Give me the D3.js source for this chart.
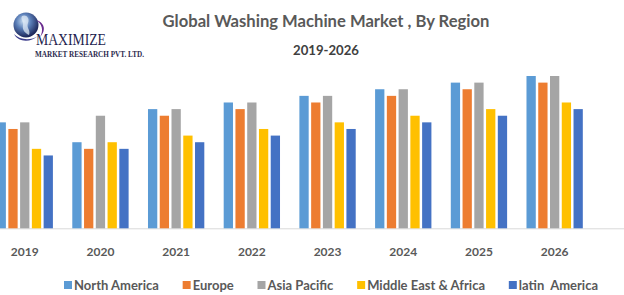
<!DOCTYPE html>
<html>
<head>
<meta charset="utf-8">
<script src="https://cdn.jsdelivr.net/npm/d3@7"></script>
<style>
  html, body { margin: 0; padding: 0; background: #ffffff; }
  svg { display: block; }
</style>
</head>
<body>
<svg id="chart" width="624" height="295"></svg>
<script>
// ---- data ----
const years = ["2019", "2020", "2021", "2022", "2023", "2024", "2025", "2026"];
const seriesNames = ["North America", "Europe", "Asia Pacific", "Middle East & Africa", "latin  America"];
const northAmerica = [16, 13, 18, 19, 20, 21, 22, 23];
const europe       = [15, 12, 17, 18, 19, 20, 21, 22];
const asiaPacific  = [16, 17, 18, 19, 20, 21, 22, 23];
const middleEast   = [12, 13, 14, 15, 16, 17, 18, 19];
const latinAmerica = [11, 12, 13, 14, 15, 16, 17, 18];
const colors = ["#5b9bd5", "#ed7d31", "#a5a5a5", "#ffc000", "#4472c4"];
const titleText = "Global Washing Machine Market , By Region";
const subtitleText = "2019-2026";

const seriesValues = [northAmerica, europe, asiaPacific, middleEast, latinAmerica];
const table = years.map((yr, i) => ({
  year: yr,
  values: seriesNames.map((s, j) => ({ key: s, value: seriesValues[j][i], color: colors[j] }))
}));

const svg = d3.select("#chart");
const baseline = 228.3;
const textColor = "#595959";

const x0 = d3.scaleBand().domain(years).range([-13.1, 592.5]).paddingInner(0.256).paddingOuter(0.128);
const x1 = d3.scaleBand().domain(seriesNames).range([0, x0.bandwidth()]).paddingInner(0.21).paddingOuter(0);
const y = d3.scaleLinear().domain([0, 23]).range([baseline, 76]);

// axis baseline
svg.append("line")
  .attr("x1", 0).attr("x2", 624)
  .attr("y1", baseline + 0.5).attr("y2", baseline + 0.5)
  .attr("stroke", "#d9d9d9").attr("stroke-width", 1);

// bars
const groups = svg.append("g").selectAll("g").data(table).join("g")
  .attr("transform", d => `translate(${x0(d.year)},0)`);
groups.selectAll("rect").data(d => d.values).join("rect")
  .attr("x", d => x1(d.key))
  .attr("width", x1.bandwidth())
  .attr("y", d => y(d.value))
  .attr("height", d => baseline - y(d.value))
  .attr("fill", d => d.color);

// x axis labels
const xAxis = d3.axisBottom(x0).tickSize(0).tickPadding(0);
const ax = svg.append("g").attr("transform", `translate(0,${baseline})`).call(xAxis);
ax.select(".domain").remove();
ax.selectAll("text")
  .attr("dy", 0).attr("y", 27.5)
  .attr("fill", textColor)
  .style("font-family", "Lato, 'Open Sans', sans-serif")
  .style("font-size", "12px")
  .style("font-weight", "700");

// title
svg.append("text")
  .attr("x", 326).attr("y", 27)
  .attr("text-anchor", "middle")
  .attr("textLength", 327).attr("lengthAdjust", "spacingAndGlyphs")
  .attr("fill", textColor)
  .style("font-family", "Lato, 'Open Sans', sans-serif")
  .style("font-size", "17.5px").style("font-weight", "700")
  .text(titleText);
svg.append("text")
  .attr("x", 326).attr("y", 55)
  .attr("text-anchor", "middle")
  .attr("textLength", 66).attr("lengthAdjust", "spacingAndGlyphs")
  .attr("fill", "#404040")
  .style("font-family", "Lato, 'Open Sans', sans-serif")
  .style("font-size", "14px").style("font-weight", "700")
  .text(subtitleText);

// legend: spread items between the measured left and right edges
const legend = svg.append("g");
const legendLeft = 64, legendRight = 598;
const items = seriesNames.map((name, i) => {
  const t = legend.append("text")
    .attr("y", 289.5)
    .attr("fill", textColor)
    .attr("xml:space", "preserve")
    .style("white-space", "pre")
    .style("font-family", "Lato, 'Open Sans', sans-serif")
    .style("font-size", "13px").style("font-weight", "700")
    .text(name);
  return { name, color: colors[i], t, w: t.node().getComputedTextLength() };
});
const itemTotal = d3.sum(items, d => 10 + d.w);
const gap = (legendRight - legendLeft - itemTotal) / (items.length - 1);
let lx = legendLeft;
items.forEach(d => {
  legend.append("rect")
    .attr("x", lx).attr("y", 281).attr("width", 8).attr("height", 8)
    .attr("fill", d.color);
  d.t.attr("x", lx + 10);
  lx += 10 + d.w + gap;
});

// logo
const defs = svg.append("defs");
const grad = defs.append("radialGradient").attr("id", "globe").attr("cx", "40%").attr("cy", "35%").attr("r", "65%");
grad.append("stop").attr("offset", "0%").attr("stop-color", "#c9def2");
grad.append("stop").attr("offset", "45%").attr("stop-color", "#5b7fb8");
grad.append("stop").attr("offset", "100%").attr("stop-color", "#1b2457");
const logo = svg.append("g");
logo.append("circle").attr("cx", 26).attr("cy", 25).attr("r", 12.5).attr("fill", "url(#globe)");
logo.append("path")
  .attr("d", "M22,16 C26,14 30,18 28,23 C26,28 31,30 29,35 C25,33 22,30 23,25 C24,21 20,20 22,16 Z")
  .attr("fill", "#dfe9f6").attr("opacity", 0.75);
logo.append("path")
  .attr("d", "M36,20 C44,22 47,30 40,37 C44,30 42,24 36,20 Z")
  .attr("fill", "#6a2c8f");
logo.append("path")
  .attr("d", "M14,34 C20,40 30,41 38,36 C30,43 18,42 14,34 Z")
  .attr("fill", "#3b3b8a");
logo.append("text")
  .attr("x", 36).attr("y", 45)
  .attr("textLength", 70).attr("lengthAdjust", "spacingAndGlyphs")
  .attr("fill", "#1f1f4f")
  .style("font-family", "'Liberation Serif', 'DejaVu Serif', serif")
  .style("font-size", "17px")
  .text("MAXIMIZE");
logo.append("text")
  .attr("x", 35).attr("y", 57)
  .attr("textLength", 109).attr("lengthAdjust", "spacingAndGlyphs")
  .attr("fill", "#2b2b4f")
  .style("font-family", "'Liberation Serif', 'DejaVu Serif', serif")
  .style("font-size", "8px").style("font-weight", "700")
  .text("MARKET RESEARCH PVT. LTD.");
</script>
</body>
</html>
